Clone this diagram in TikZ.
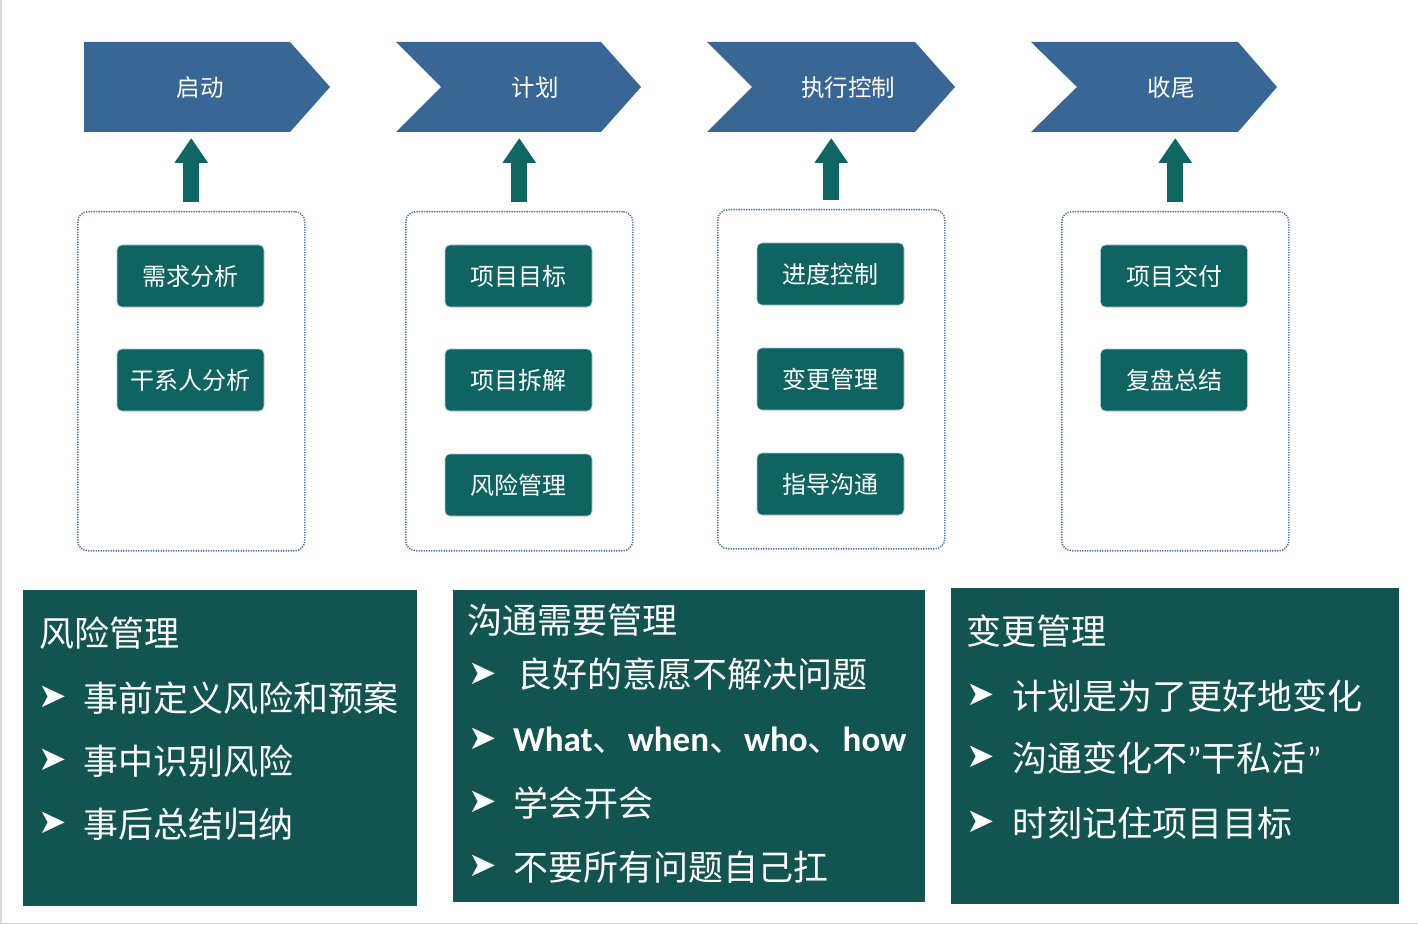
\documentclass[tikz,border=0pt]{standalone}
\usepackage{fontspec}
\setmainfont{Noto Sans CJK SC}
\newfontfamily\dvfont{DejaVu Sans}
\newfontfamily\carfont{Carlito}
\usetikzlibrary{arrows.meta}
\definecolor{chevblue}{HTML}{386795}
\definecolor{arrteal}{HTML}{0F6763}
\definecolor{btnteal}{HTML}{0F6361}
\definecolor{panelc}{HTML}{12544F}
\definecolor{dotblue}{HTML}{4F76A8}
\definecolor{btnedge}{HTML}{A6C9D6}
\definecolor{framec}{HTML}{D9D9D9}
\begin{document}
\begin{tikzpicture}[x=1pt,y=-1pt,
  chev/.style={fill=chevblue},
  chevtext/.style={text=white, font=\fontsize{23.5}{26}\selectfont, inner sep=0pt},
  group/.style={draw=dotblue, dash pattern=on 1.3pt off 1.2pt, line width=1.5pt, rounded corners=10pt, minimum width=227pt, minimum height=339pt, inner sep=0pt, anchor=north west},
  btn/.style={fill=btnteal, draw=btnedge, line width=0.6pt, rounded corners=5pt, minimum width=147pt, minimum height=62pt, text=white, font=\fontsize{24}{26}\selectfont, inner sep=0pt},
  uparrow/.style={draw=arrteal, line width=16pt, -{Triangle[length=25pt,width=32pt]}, shorten <=9pt, shorten >=6pt},
  panelbox/.style={fill=panelc, inner sep=0pt, anchor=north west},
  ptext/.style={text=white, anchor=west, inner sep=0pt, font=\fontsize{35}{40}\selectfont},
  bul/.style={text=white, anchor=west, inner sep=0pt, font=\dvfont\fontsize{34}{36}\selectfont}
]
\useasboundingbox (0,0) rectangle (1418,925);
\fill[white] (0,0) rectangle (1418,925);
\draw[framec, line width=1.5pt] (0.75,0) -- (0.75,923.25) -- (1418,923.25);

% chevrons
\fill[chev] (84,42) -- (290,42) -- (330,87) -- (290,132) -- (84,132) -- cycle;
\fill[chev] (396,42) -- (601,42) -- (641,87) -- (601,132) -- (396,132) -- (441,87) -- cycle;
\fill[chev] (707,42) -- (915,42) -- (955,87) -- (915,132) -- (707,132) -- (752,87) -- cycle;
\fill[chev] (1031,42) -- (1238,42) -- (1277,87) -- (1238,132) -- (1031,132) -- (1077,87) -- cycle;
\coordinate (k1) at (84,132);
\coordinate (k2) at (396,132);
\coordinate (k3) at (707,132);
\coordinate (k4) at (1031,132);
\node[chevtext] (t1) at (200,88) {启动};
\node[chevtext] (t2) at (535,88) {计划};
\node[chevtext] (t3) at (848,88) {执行控制};
\node[chevtext] (t4) at (1171,88) {收尾};

% groups
\node[group] (g1) at (77,211) {};
\node[group] (g2) at (405,211) {};
\node[group] (g3) at (717,209) {};
\node[group] (g4) at (1061,211) {};

\draw[uparrow] (g1.north) -- (g1.north |- k1);
\draw[uparrow] (g2.north) -- (g2.north |- k2);
\draw[uparrow] (g3.north) -- (g3.north |- k3);
\draw[uparrow] (g4.north) -- (g4.north |- k4);

% buttons
\node[btn] (b11) at (190.5,276) {需求分析};
\node[btn] (b12) at (190.5,380) {干系人分析};
\node[btn] (b21) at (518.5,276) {项目目标};
\node[btn] (b22) at (518.5,380) {项目拆解};
\node[btn] (b23) at (518.5,485) {风险管理};
\node[btn] (b31) at (830.5,274) {进度控制};
\node[btn] (b32) at (830.5,379) {变更管理};
\node[btn] (b33) at (830.5,484) {指导沟通};
\node[btn] (b41) at (1174,276) {项目交付};
\node[btn] (b42) at (1174,380) {复盘总结};

% panels
\node[panelbox, minimum width=394pt, minimum height=316pt] (p1) at (23,590) {};
\node[panelbox, minimum width=472pt, minimum height=312pt] (p2) at (453,590) {};
\node[panelbox, minimum width=448pt, minimum height=316pt] (p3) at (951,588) {};

% panel 1
\node[ptext] (p1t) at (39,633) {风险管理};
\node[bul] (p1b1) at (38,697) {➤};
\node[ptext] (p1l1) at (83,698) {事前定义风险和预案};
\node[bul] (p1b2) at (38,760) {➤};
\node[ptext] (p1l2) at (83,761) {事中识别风险};
\node[bul] (p1b3) at (38,823) {➤};
\node[ptext] (p1l3) at (83,824) {事后总结归纳};

% panel 2
\node[ptext] (p2t) at (467,620) {沟通需要管理};
\node[bul] (p2b1) at (468,674) {➤};
\node[ptext] (p2l1) at (517,674) {良好的意愿不解决问题};
\node[bul] (p2b2) at (468,739) {➤};
\node[ptext] (p2l2) at (513,740) {{\carfont\bfseries What}、{\carfont\bfseries when}、{\carfont\bfseries who}、{\carfont\bfseries how}};
\node[bul] (p2b3) at (468,802) {➤};
\node[ptext] (p2l3) at (513,803) {学会开会};
\node[bul] (p2b4) at (468,866) {➤};
\node[ptext] (p2l4) at (513,867) {不要所有问题自己扛};

% panel 3
\node[ptext] (p3t) at (966,631) {变更管理};
\node[bul] (p3b1) at (966,695) {➤};
\node[ptext] (p3l1) at (1012,696) {计划是为了更好地变化};
\node[bul] (p3b2) at (966,757) {➤};
\node[ptext] (p3l2) at (1012,758) {沟通变化不{\carfont ”}干私活{\carfont ”}};
\node[bul] (p3b3) at (966,822) {➤};
\node[ptext] (p3l3) at (1012,823) {时刻记住项目目标};
\end{tikzpicture}
\end{document}
